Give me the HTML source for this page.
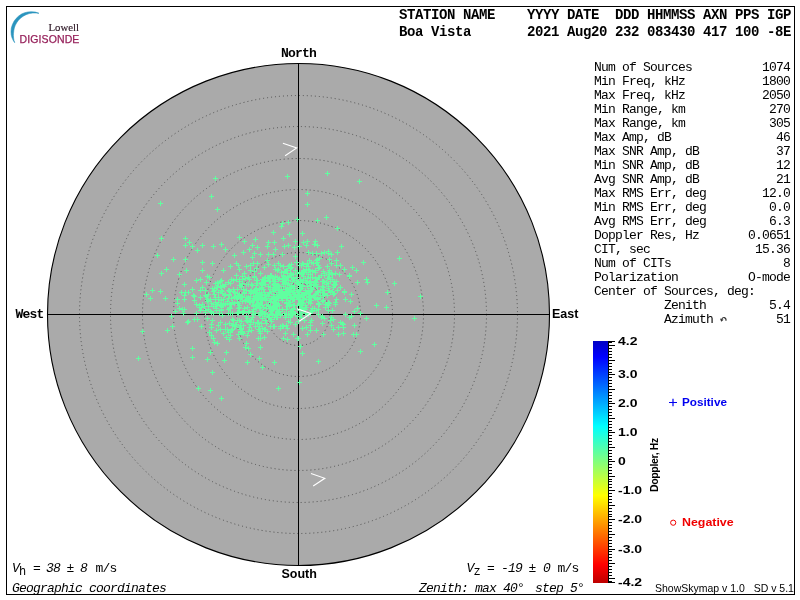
<!DOCTYPE html>
<html><head><meta charset="utf-8"><title>Skymap - Boa Vista</title>
<style>
html,body{margin:0;padding:0;background:#fff;}
body{width:800px;height:600px;position:relative;overflow:hidden;}
svg{position:absolute;left:0;top:0;}
.t{position:absolute;line-height:20px;white-space:pre;color:#000;}
.hb{font-family:"Liberation Mono", monospace;font-weight:bold;font-size:14px;letter-spacing:-0.401px;}
.m{font-family:"Liberation Mono", monospace;font-size:13px;letter-spacing:-0.801px;}
.mi{font-family:"Liberation Mono", monospace;font-style:italic;font-size:13px;letter-spacing:-0.801px;}
.mb{font-family:"Liberation Mono", monospace;font-weight:bold;font-size:13px;letter-spacing:-0.801px;}
.ms{font-family:"Liberation Mono", monospace;font-size:12px;}
.sb{font-family:"Liberation Sans", sans-serif;font-weight:bold;font-size:12.5px;}
.sb10{font-family:"Liberation Sans", sans-serif;font-weight:bold;font-size:10.5px;}
.sbn{font-family:"Liberation Sans", sans-serif;font-weight:bold;font-size:11px;}
.s10{font-family:"Liberation Sans", sans-serif;font-size:10.5px;}
.lg1{font-family:"Liberation Serif", serif;font-size:10.8px;}
.lg2{font-family:"Liberation Sans", sans-serif;font-size:10.5px;letter-spacing:0.1px;-webkit-text-stroke:0.25px #96205a;}
</style></head>
<body>
<svg width="800" height="600" viewBox="0 0 800 600">
<rect x="6.5" y="6.5" width="788" height="588" fill="none" stroke="#000" stroke-width="1"/>
<circle cx="298.5" cy="314.5" r="251" fill="#aaaaaa" stroke="#000" stroke-width="1.1"/>
<circle cx="298.5" cy="314.5" r="219" fill="none" stroke="#505050" stroke-width="1" stroke-dasharray="1 3"/>
<circle cx="298.5" cy="314.5" r="188" fill="none" stroke="#505050" stroke-width="1" stroke-dasharray="1 3"/>
<circle cx="298.5" cy="314.5" r="156" fill="none" stroke="#505050" stroke-width="1" stroke-dasharray="1 3"/>
<circle cx="298.5" cy="314.5" r="125" fill="none" stroke="#505050" stroke-width="1" stroke-dasharray="1 3"/>
<circle cx="298.5" cy="314.5" r="94" fill="none" stroke="#505050" stroke-width="1" stroke-dasharray="1 3"/>
<circle cx="298.5" cy="314.5" r="62" fill="none" stroke="#505050" stroke-width="1" stroke-dasharray="1 3"/>
<circle cx="298.5" cy="314.5" r="31" fill="none" stroke="#505050" stroke-width="1" stroke-dasharray="1 3"/>
<rect x="298" y="63" width="1" height="503" fill="#000"/>
<rect x="47" y="314" width="503" height="1" fill="#000"/>
<path d="M213 178.5h5M215.5 176v5M209 196.5h5M211.5 194v5M215 209.5h5M217.5 207v5M158 203.5h5M160.5 201v5M159 238.5h5M161.5 236v5M155 255.5h5M157.5 253v5M183 238.5h5M185.5 236v5M187 242.5h5M189.5 240v5M183 245.5h5M185.5 243v5M190 246.5h5M192.5 244v5M195 250.5h5M197.5 248v5M200 245.5h5M202.5 243v5M211 246.5h5M213.5 244v5M219 244.5h5M221.5 242v5M223 249.5h5M225.5 247v5M237 237.5h5M239.5 235v5M242 241.5h5M244.5 239v5M253 239.5h5M255.5 237v5M271 232.5h5M273.5 230v5M266 242.5h5M268.5 240v5M272 242.5h5M274.5 240v5M265 246.5h5M267.5 244v5M273 249.5h5M275.5 247v5M255 247.5h5M257.5 245v5M250 245.5h5M252.5 243v5M247 249.5h5M249.5 247v5M241 252.5h5M243.5 250v5M252 253.5h5M254.5 251v5M258 254.5h5M260.5 252v5M171 259.5h5M173.5 257v5M183 259.5h5M185.5 257v5M164 269.5h5M166.5 267v5M159 273.5h5M161.5 271v5M177 274.5h5M179.5 272v5M285 176.5h5M287.5 174v5M325 173.5h5M327.5 171v5M357 181.5h5M359.5 179v5M305 193.5h5M307.5 191v5M305 204.5h5M307.5 202v5M295 219.5h5M297.5 217v5M315 220.5h5M317.5 218v5M324 217.5h5M326.5 215v5M335 228.5h5M337.5 226v5M280 223.5h5M282.5 221v5M286 222.5h5M288.5 220v5M279 226.5h5M281.5 224v5M287 234.5h5M289.5 232v5M300 233.5h5M302.5 231v5M281 238.5h5M283.5 236v5M293 241.5h5M295.5 239v5M301 242.5h5M303.5 240v5M305 241.5h5M307.5 239v5M313 241.5h5M315.5 239v5M286 245.5h5M288.5 243v5M282 246.5h5M284.5 244v5M292 247.5h5M294.5 245v5M297 246.5h5M299.5 244v5M304 245.5h5M306.5 243v5M312 244.5h5M314.5 242v5M315 245.5h5M317.5 243v5M339 246.5h5M341.5 244v5M306 252.5h5M308.5 250v5M310 253.5h5M312.5 251v5M314 253.5h5M316.5 251v5M319 253.5h5M321.5 251v5M322 252.5h5M324.5 250v5M326 251.5h5M328.5 249v5M329 254.5h5M331.5 252v5M335 252.5h5M337.5 250v5M397 258.5h5M399.5 256v5M361 262.5h5M363.5 260v5M350 267.5h5M352.5 265v5M354 270.5h5M356.5 268v5M342 269.5h5M344.5 267v5M338 265.5h5M340.5 263v5M334 260.5h5M336.5 258v5M327 259.5h5M329.5 257v5M329 263.5h5M331.5 261v5M325 266.5h5M327.5 264v5M314 260.5h5M316.5 258v5M347 275.5h5M349.5 273v5M337 274.5h5M339.5 272v5M330 274.5h5M332.5 272v5M327 270.5h5M329.5 268v5M364 279.5h5M366.5 277v5M150 290.5h5M152.5 288v5M158 291.5h5M160.5 289v5M144 294.5h5M146.5 292v5M148 298.5h5M150.5 296v5M163 298.5h5M165.5 296v5M175 299.5h5M177.5 297v5M179 292.5h5M181.5 290v5M173 311.5h5M175.5 309v5M169 316.5h5M171.5 314v5M181 313.5h5M183.5 311v5M185 322.5h5M187.5 320v5M170 326.5h5M172.5 324v5M165 330.5h5M167.5 328v5M140 331.5h5M142.5 329v5M136 358.5h5M138.5 356v5M192 319.5h5M194.5 317v5M195 319.5h5M197.5 317v5M199 326.5h5M201.5 324v5M190 348.5h5M192.5 346v5M190 357.5h5M192.5 355v5M208 352.5h5M210.5 350v5M205 359.5h5M207.5 357v5M224 352.5h5M226.5 350v5M222 360.5h5M224.5 358v5M210 372.5h5M212.5 370v5M196 388.5h5M198.5 386v5M208 390.5h5M210.5 388v5M219 398.5h5M221.5 396v5M245 362.5h5M247.5 360v5M248 354.5h5M250.5 352v5M257 358.5h5M259.5 356v5M260 367.5h5M262.5 365v5M272 362.5h5M274.5 360v5M276 388.5h5M278.5 386v5M258 347.5h5M260.5 345v5M244 343.5h5M246.5 341v5M243 347.5h5M245.5 345v5M246 348.5h5M248.5 346v5M237 338.5h5M239.5 336v5M227 339.5h5M229.5 337v5M224 337.5h5M226.5 335v5M215 343.5h5M217.5 341v5M212 342.5h5M214.5 340v5M211 338.5h5M213.5 336v5M209 335.5h5M211.5 333v5M207 332.5h5M209.5 330v5M214 330.5h5M216.5 328v5M218 329.5h5M220.5 327v5M221 333.5h5M223.5 331v5M240 331.5h5M242.5 329v5M249 330.5h5M251.5 328v5M257 331.5h5M259.5 329v5M265 331.5h5M267.5 329v5M256 338.5h5M258.5 336v5M258 338.5h5M260.5 336v5M262 337.5h5M264.5 335v5M271 326.5h5M273.5 324v5M392 283.5h5M394.5 281v5M385 292.5h5M387.5 290v5M418 296.5h5M420.5 294v5M374 305.5h5M376.5 303v5M384 307.5h5M386.5 305v5M412 318.5h5M414.5 316v5M364 318.5h5M366.5 316v5M358 313.5h5M360.5 311v5M352 311.5h5M354.5 309v5M349 294.5h5M351.5 292v5M348 301.5h5M350.5 299v5M355 282.5h5M357.5 280v5M365 282.5h5M367.5 280v5M372 344.5h5M374.5 342v5M358 351.5h5M360.5 349v5M316 361.5h5M318.5 359v5M300 353.5h5M302.5 351v5M297 382.5h5M299.5 380v5M298 346.5h5M300.5 344v5M352 325.5h5M354.5 323v5M351 334.5h5M353.5 332v5M354 334.5h5M356.5 332v5M341 333.5h5M343.5 331v5M336 334.5h5M338.5 332v5M340 323.5h5M342.5 321v5M338 322.5h5M340.5 320v5M341 327.5h5M343.5 325v5M336 327.5h5M338.5 325v5M331 329.5h5M333.5 327v5M329 325.5h5M331.5 323v5M321 334.5h5M323.5 332v5M314 330.5h5M316.5 328v5M305 334.5h5M307.5 332v5M304 327.5h5M306.5 325v5M300 328.5h5M302.5 326v5M308 322.5h5M310.5 320v5M320 323.5h5M322.5 321v5M322 318.5h5M324.5 316v5M331 319.5h5M333.5 317v5M291 334.5h5M293.5 332v5M296 338.5h5M298.5 336v5M285 339.5h5M287.5 337v5M281 338.5h5M283.5 336v5M285 328.5h5M287.5 326v5M280 325.5h5M282.5 323v5M343 314.5h5M345.5 312v5M347 317.5h5M349.5 315v5M349 316.5h5M351.5 314v5M321 295.5h5M323.5 293v5M277 305.5h5M279.5 303v5M291 290.5h5M293.5 288v5M307 292.5h5M309.5 290v5M303 305.5h5M305.5 303v5M324 282.5h5M326.5 280v5M315 291.5h5M317.5 289v5M288 317.5h5M290.5 315v5M305 278.5h5M307.5 276v5M284 282.5h5M286.5 280v5M322 294.5h5M324.5 292v5M302 295.5h5M304.5 293v5M276 279.5h5M278.5 277v5M291 305.5h5M293.5 303v5M271 278.5h5M273.5 276v5M316 277.5h5M318.5 275v5M320 301.5h5M322.5 299v5M301 264.5h5M303.5 262v5M292 280.5h5M294.5 278v5M270 278.5h5M272.5 276v5M273 276.5h5M275.5 274v5M265 294.5h5M267.5 292v5M278 265.5h5M280.5 263v5M296 283.5h5M298.5 281v5M290 314.5h5M292.5 312v5M288 275.5h5M290.5 273v5M303 290.5h5M305.5 288v5M300 282.5h5M302.5 280v5M308 281.5h5M310.5 279v5M287 291.5h5M289.5 289v5M321 271.5h5M323.5 269v5M286 293.5h5M288.5 291v5M316 304.5h5M318.5 302v5M300 295.5h5M302.5 293v5M298 297.5h5M300.5 295v5M297 289.5h5M299.5 287v5M294 280.5h5M296.5 278v5M283 278.5h5M285.5 276v5M307 260.5h5M309.5 258v5M311 263.5h5M313.5 261v5M285 277.5h5M287.5 275v5M308 291.5h5M310.5 289v5M316 292.5h5M318.5 290v5M299 288.5h5M301.5 286v5M307 282.5h5M309.5 280v5M317 304.5h5M319.5 302v5M311 296.5h5M313.5 294v5M338 287.5h5M340.5 285v5M318 297.5h5M320.5 295v5M297 303.5h5M299.5 301v5M332 281.5h5M334.5 279v5M316 303.5h5M318.5 301v5M332 285.5h5M334.5 283v5M287 265.5h5M289.5 263v5M301 276.5h5M303.5 274v5M304 269.5h5M306.5 267v5M321 287.5h5M323.5 285v5M315 259.5h5M317.5 257v5M266 286.5h5M268.5 284v5M318 290.5h5M320.5 288v5M297 284.5h5M299.5 282v5M260 297.5h5M262.5 295v5M265 314.5h5M267.5 312v5M301 299.5h5M303.5 297v5M313 281.5h5M315.5 279v5M257 292.5h5M259.5 290v5M283 271.5h5M285.5 269v5M306 266.5h5M308.5 264v5M306 269.5h5M308.5 267v5M306 274.5h5M308.5 272v5M328 281.5h5M330.5 279v5M316 309.5h5M318.5 307v5M305 278.5h5M307.5 276v5M308 277.5h5M310.5 275v5M267 281.5h5M269.5 279v5M310 289.5h5M312.5 287v5M328 279.5h5M330.5 277v5M313 278.5h5M315.5 276v5M290 311.5h5M292.5 309v5M281 281.5h5M283.5 279v5M314 282.5h5M316.5 280v5M277 292.5h5M279.5 290v5M327 277.5h5M329.5 275v5M276 285.5h5M278.5 283v5M312 308.5h5M314.5 306v5M300 286.5h5M302.5 284v5M289 285.5h5M291.5 283v5M277 286.5h5M279.5 284v5M273 281.5h5M275.5 279v5M296 299.5h5M298.5 297v5M301 271.5h5M303.5 269v5M266 296.5h5M268.5 294v5M291 274.5h5M293.5 272v5M275 285.5h5M277.5 283v5M322 273.5h5M324.5 271v5M297 310.5h5M299.5 308v5M323 307.5h5M325.5 305v5M288 291.5h5M290.5 289v5M294 282.5h5M296.5 280v5M327 274.5h5M329.5 272v5M308 295.5h5M310.5 293v5M324 284.5h5M326.5 282v5M279 289.5h5M281.5 287v5M316 268.5h5M318.5 266v5M293 295.5h5M295.5 293v5M292 299.5h5M294.5 297v5M263 298.5h5M265.5 296v5M296 291.5h5M298.5 289v5M326 286.5h5M328.5 284v5M331 284.5h5M333.5 282v5M301 280.5h5M303.5 278v5M313 298.5h5M315.5 296v5M297 309.5h5M299.5 307v5M309 284.5h5M311.5 282v5M325 295.5h5M327.5 293v5M274 297.5h5M276.5 295v5M303 280.5h5M305.5 278v5M305 283.5h5M307.5 281v5M293 294.5h5M295.5 292v5M320 281.5h5M322.5 279v5M301 303.5h5M303.5 301v5M306 296.5h5M308.5 294v5M296 294.5h5M298.5 292v5M290 312.5h5M292.5 310v5M327 290.5h5M329.5 288v5M320 289.5h5M322.5 287v5M271 291.5h5M273.5 289v5M326 302.5h5M328.5 300v5M313 272.5h5M315.5 270v5M274 287.5h5M276.5 285v5M317 267.5h5M319.5 265v5M279 272.5h5M281.5 270v5M315 299.5h5M317.5 297v5M298 281.5h5M300.5 279v5M310 277.5h5M312.5 275v5M281 266.5h5M283.5 264v5M280 291.5h5M282.5 289v5M283 292.5h5M285.5 290v5M272 283.5h5M274.5 281v5M315 286.5h5M317.5 284v5M284 297.5h5M286.5 295v5M273 288.5h5M275.5 286v5M298 299.5h5M300.5 297v5M290 292.5h5M292.5 290v5M300 294.5h5M302.5 292v5M271 284.5h5M273.5 282v5M319 275.5h5M321.5 273v5M291 299.5h5M293.5 297v5M272 265.5h5M274.5 263v5M304 282.5h5M306.5 280v5M310 271.5h5M312.5 269v5M288 287.5h5M290.5 285v5M313 270.5h5M315.5 268v5M315 279.5h5M317.5 277v5M328 292.5h5M330.5 290v5M291 294.5h5M293.5 292v5M290 281.5h5M292.5 279v5M289 274.5h5M291.5 272v5M299 265.5h5M301.5 263v5M273 284.5h5M275.5 282v5M298 314.5h5M300.5 312v5M298 296.5h5M300.5 294v5M333 284.5h5M335.5 282v5M274 303.5h5M276.5 301v5M282 278.5h5M284.5 276v5M318 295.5h5M320.5 293v5M294 297.5h5M296.5 295v5M335 290.5h5M337.5 288v5M296 282.5h5M298.5 280v5M289 313.5h5M291.5 311v5M315 298.5h5M317.5 296v5M310 311.5h5M312.5 309v5M263 294.5h5M265.5 292v5M331 284.5h5M333.5 282v5M322 282.5h5M324.5 280v5M282 282.5h5M284.5 280v5M304 292.5h5M306.5 290v5M268 287.5h5M270.5 285v5M326 274.5h5M328.5 272v5M321 290.5h5M323.5 288v5M298 289.5h5M300.5 287v5M291 296.5h5M293.5 294v5M299 274.5h5M301.5 272v5M323 304.5h5M325.5 302v5M291 309.5h5M293.5 307v5M288 294.5h5M290.5 292v5M271 297.5h5M273.5 295v5M316 292.5h5M318.5 290v5M311 285.5h5M313.5 283v5M297 299.5h5M299.5 297v5M326 283.5h5M328.5 281v5M314 263.5h5M316.5 261v5M261 280.5h5M263.5 278v5M322 293.5h5M324.5 291v5M285 276.5h5M287.5 274v5M320 292.5h5M322.5 290v5M276 311.5h5M278.5 309v5M297 272.5h5M299.5 270v5M288 311.5h5M290.5 309v5M272 303.5h5M274.5 301v5M312 282.5h5M314.5 280v5M304 307.5h5M306.5 305v5M326 310.5h5M328.5 308v5M313 294.5h5M315.5 292v5M298 304.5h5M300.5 302v5M322 275.5h5M324.5 273v5M272 285.5h5M274.5 283v5M286 302.5h5M288.5 300v5M305 292.5h5M307.5 290v5M273 269.5h5M275.5 267v5M299 312.5h5M301.5 310v5M274 294.5h5M276.5 292v5M342 292.5h5M344.5 290v5M298 285.5h5M300.5 283v5M326 288.5h5M328.5 286v5M321 281.5h5M323.5 279v5M299 317.5h5M301.5 315v5M303 292.5h5M305.5 290v5M295 273.5h5M297.5 271v5M301 276.5h5M303.5 274v5M304 272.5h5M306.5 270v5M314 282.5h5M316.5 280v5M299 307.5h5M301.5 305v5M289 267.5h5M291.5 265v5M286 283.5h5M288.5 281v5M303 305.5h5M305.5 303v5M267 293.5h5M269.5 291v5M276 269.5h5M278.5 267v5M300 308.5h5M302.5 306v5M289 264.5h5M291.5 262v5M288 273.5h5M290.5 271v5M298 305.5h5M300.5 303v5M332 293.5h5M334.5 291v5M281 295.5h5M283.5 293v5M297 265.5h5M299.5 263v5M309 310.5h5M311.5 308v5M303 309.5h5M305.5 307v5M300 273.5h5M302.5 271v5M308 303.5h5M310.5 301v5M285 294.5h5M287.5 292v5M273 302.5h5M275.5 300v5M315 286.5h5M317.5 284v5M287 294.5h5M289.5 292v5M326 272.5h5M328.5 270v5M278 315.5h5M280.5 313v5M314 284.5h5M316.5 282v5M270 307.5h5M272.5 305v5M287 302.5h5M289.5 300v5M289 297.5h5M291.5 295v5M325 305.5h5M327.5 303v5M316 265.5h5M318.5 263v5M263 299.5h5M265.5 297v5M305 286.5h5M307.5 284v5M288 297.5h5M290.5 295v5M315 262.5h5M317.5 260v5M331 294.5h5M333.5 292v5M299 294.5h5M301.5 292v5M329 273.5h5M331.5 271v5M284 279.5h5M286.5 277v5M293 270.5h5M295.5 268v5M300 274.5h5M302.5 272v5M275 270.5h5M277.5 268v5M259 292.5h5M261.5 290v5M334 281.5h5M336.5 279v5M276 289.5h5M278.5 287v5M316 314.5h5M318.5 312v5M304 266.5h5M306.5 264v5M290 299.5h5M292.5 297v5M314 293.5h5M316.5 291v5M299 274.5h5M301.5 272v5M281 284.5h5M283.5 282v5M320 286.5h5M322.5 284v5M333 302.5h5M335.5 300v5M288 288.5h5M290.5 286v5M275 297.5h5M277.5 295v5M285 270.5h5M287.5 268v5M326 305.5h5M328.5 303v5M292 305.5h5M294.5 303v5M306 302.5h5M308.5 300v5M300 303.5h5M302.5 301v5M236 308.5h5M238.5 306v5M285 298.5h5M287.5 296v5M222 286.5h5M224.5 284v5M320 316.5h5M322.5 314v5M295 290.5h5M297.5 288v5M248 302.5h5M250.5 300v5M227 295.5h5M229.5 293v5M186 321.5h5M188.5 319v5M259 282.5h5M261.5 280v5M303 313.5h5M305.5 311v5M219 310.5h5M221.5 308v5M256 306.5h5M258.5 304v5M258 307.5h5M260.5 305v5M247 301.5h5M249.5 299v5M267 317.5h5M269.5 315v5M186 292.5h5M188.5 290v5M232 297.5h5M234.5 295v5M299 310.5h5M301.5 308v5M245 307.5h5M247.5 305v5M279 296.5h5M281.5 294v5M223 304.5h5M225.5 302v5M307 299.5h5M309.5 297v5M263 313.5h5M265.5 311v5M255 298.5h5M257.5 296v5M284 289.5h5M286.5 287v5M270 310.5h5M272.5 308v5M255 298.5h5M257.5 296v5M237 295.5h5M239.5 293v5M242 311.5h5M244.5 309v5M292 292.5h5M294.5 290v5M264 298.5h5M266.5 296v5M271 306.5h5M273.5 304v5M323 307.5h5M325.5 305v5M203 312.5h5M205.5 310v5M275 312.5h5M277.5 310v5M258 314.5h5M260.5 312v5M270 314.5h5M272.5 312v5M232 303.5h5M234.5 301v5M251 314.5h5M253.5 312v5M298 287.5h5M300.5 285v5M259 300.5h5M261.5 298v5M289 311.5h5M291.5 309v5M237 311.5h5M239.5 309v5M216 292.5h5M218.5 290v5M214 304.5h5M216.5 302v5M244 297.5h5M246.5 295v5M259 283.5h5M261.5 281v5M275 317.5h5M277.5 315v5M206 306.5h5M208.5 304v5M230 302.5h5M232.5 300v5M301 309.5h5M303.5 307v5M260 279.5h5M262.5 277v5M209 312.5h5M211.5 310v5M295 316.5h5M297.5 314v5M281 275.5h5M283.5 273v5M279 298.5h5M281.5 296v5M283 317.5h5M285.5 315v5M297 292.5h5M299.5 290v5M258 303.5h5M260.5 301v5M238 325.5h5M240.5 323v5M309 288.5h5M311.5 286v5M247 311.5h5M249.5 309v5M269 313.5h5M271.5 311v5M276 295.5h5M278.5 293v5M263 280.5h5M265.5 278v5M229 298.5h5M231.5 296v5M212 294.5h5M214.5 292v5M298 285.5h5M300.5 283v5M229 304.5h5M231.5 302v5M245 318.5h5M247.5 316v5M255 280.5h5M257.5 278v5M268 311.5h5M270.5 309v5M248 324.5h5M250.5 322v5M308 297.5h5M310.5 295v5M296 299.5h5M298.5 297v5M256 302.5h5M258.5 300v5M283 291.5h5M285.5 289v5M254 308.5h5M256.5 306v5M217 313.5h5M219.5 311v5M237 305.5h5M239.5 303v5M257 307.5h5M259.5 305v5M205 301.5h5M207.5 299v5M266 306.5h5M268.5 304v5M237 294.5h5M239.5 292v5M244 320.5h5M246.5 318v5M246 297.5h5M248.5 295v5M211 304.5h5M213.5 302v5M242 273.5h5M244.5 271v5M216 297.5h5M218.5 295v5M253 313.5h5M255.5 311v5M235 297.5h5M237.5 295v5M289 315.5h5M291.5 313v5M235 293.5h5M237.5 291v5M273 314.5h5M275.5 312v5M278 291.5h5M280.5 289v5M237 279.5h5M239.5 277v5M244 299.5h5M246.5 297v5M209 303.5h5M211.5 301v5M284 302.5h5M286.5 300v5M250 285.5h5M252.5 283v5M244 320.5h5M246.5 318v5M215 304.5h5M217.5 302v5M218 286.5h5M220.5 284v5M263 320.5h5M265.5 318v5M256 322.5h5M258.5 320v5M304 292.5h5M306.5 290v5M228 313.5h5M230.5 311v5M286 291.5h5M288.5 289v5M297 297.5h5M299.5 295v5M268 289.5h5M270.5 287v5M240 279.5h5M242.5 277v5M235 312.5h5M237.5 310v5M274 294.5h5M276.5 292v5M273 300.5h5M275.5 298v5M266 305.5h5M268.5 303v5M260 300.5h5M262.5 298v5M246 284.5h5M248.5 282v5M239 297.5h5M241.5 295v5M285 289.5h5M287.5 287v5M258 296.5h5M260.5 294v5M269 321.5h5M271.5 319v5M271 301.5h5M273.5 299v5M280 279.5h5M282.5 277v5M241 312.5h5M243.5 310v5M257 307.5h5M259.5 305v5M211 306.5h5M213.5 304v5M248 296.5h5M250.5 294v5M230 313.5h5M232.5 311v5M219 290.5h5M221.5 288v5M240 301.5h5M242.5 299v5M237 285.5h5M239.5 283v5M258 312.5h5M260.5 310v5M288 322.5h5M290.5 320v5M251 300.5h5M253.5 298v5M192 300.5h5M194.5 298v5M263 284.5h5M265.5 282v5M262 292.5h5M264.5 290v5M282 295.5h5M284.5 293v5M213 299.5h5M215.5 297v5M232 292.5h5M234.5 290v5M255 293.5h5M257.5 291v5M226 309.5h5M228.5 307v5M275 304.5h5M277.5 302v5M326 303.5h5M328.5 301v5M221 299.5h5M223.5 297v5M292 286.5h5M294.5 284v5M251 291.5h5M253.5 289v5M213 283.5h5M215.5 281v5M270 289.5h5M272.5 287v5M247 279.5h5M249.5 277v5M233 296.5h5M235.5 294v5M225 301.5h5M227.5 299v5M230 319.5h5M232.5 317v5M284 282.5h5M286.5 280v5M237 307.5h5M239.5 305v5M278 314.5h5M280.5 312v5M244 284.5h5M246.5 282v5M280 297.5h5M282.5 295v5M254 295.5h5M256.5 293v5M180 309.5h5M182.5 307v5M257 308.5h5M259.5 306v5M288 302.5h5M290.5 300v5M205 299.5h5M207.5 297v5M213 302.5h5M215.5 300v5M249 292.5h5M251.5 290v5M199 307.5h5M201.5 305v5M257 315.5h5M259.5 313v5M283 289.5h5M285.5 287v5M228 283.5h5M230.5 281v5M216 302.5h5M218.5 300v5M220 305.5h5M222.5 303v5M237 281.5h5M239.5 279v5M200 304.5h5M202.5 302v5M198 310.5h5M200.5 308v5M216 283.5h5M218.5 281v5M208 311.5h5M210.5 309v5M203 295.5h5M205.5 293v5M255 290.5h5M257.5 288v5M198 290.5h5M200.5 288v5M240 283.5h5M242.5 281v5M213 297.5h5M215.5 295v5M280 296.5h5M282.5 294v5M252 290.5h5M254.5 288v5M269 298.5h5M271.5 296v5M214 308.5h5M216.5 306v5M243 300.5h5M245.5 298v5M246 312.5h5M248.5 310v5M249 290.5h5M251.5 288v5M268 281.5h5M270.5 279v5M260 312.5h5M262.5 310v5M233 293.5h5M235.5 291v5M222 295.5h5M224.5 293v5M227 290.5h5M229.5 288v5M273 281.5h5M275.5 279v5M280 309.5h5M282.5 307v5M205 318.5h5M207.5 316v5M249 319.5h5M251.5 317v5M270 315.5h5M272.5 313v5M250 300.5h5M252.5 298v5M219 300.5h5M221.5 298v5M227 308.5h5M229.5 306v5M281 286.5h5M283.5 284v5M254 293.5h5M256.5 291v5M258 294.5h5M260.5 292v5M301 294.5h5M303.5 292v5M250 317.5h5M252.5 315v5M254 292.5h5M256.5 290v5M275 311.5h5M277.5 309v5M300 285.5h5M302.5 283v5M259 284.5h5M261.5 282v5M286 280.5h5M288.5 278v5M242 292.5h5M244.5 290v5M285 288.5h5M287.5 286v5M246 312.5h5M248.5 310v5M284 303.5h5M286.5 301v5M282 313.5h5M284.5 311v5M273 290.5h5M275.5 288v5M253 297.5h5M255.5 295v5M268 289.5h5M270.5 287v5M218 305.5h5M220.5 303v5M198 279.5h5M200.5 277v5M240 296.5h5M242.5 294v5M312 297.5h5M314.5 295v5M206 300.5h5M208.5 298v5M194 280.5h5M196.5 278v5M276 289.5h5M278.5 287v5M254 289.5h5M256.5 287v5M221 303.5h5M223.5 301v5M242 308.5h5M244.5 306v5M206 309.5h5M208.5 307v5M295 297.5h5M297.5 295v5M267 278.5h5M269.5 276v5M220 293.5h5M222.5 291v5M263 280.5h5M265.5 278v5M238 298.5h5M240.5 296v5M247 302.5h5M249.5 300v5M245 298.5h5M247.5 296v5M268 275.5h5M270.5 273v5M214 287.5h5M216.5 285v5M212 290.5h5M214.5 288v5M194 304.5h5M196.5 302v5M308 313.5h5M310.5 311v5M281 293.5h5M283.5 291v5M211 313.5h5M213.5 311v5M247 320.5h5M249.5 318v5M225 303.5h5M227.5 301v5M276 295.5h5M278.5 293v5M234 297.5h5M236.5 295v5M236 297.5h5M238.5 295v5M177 308.5h5M179.5 306v5M256 298.5h5M258.5 296v5M175 303.5h5M177.5 301v5M262 316.5h5M264.5 314v5M280 300.5h5M282.5 298v5M254 299.5h5M256.5 297v5M262 295.5h5M264.5 293v5M251 309.5h5M253.5 307v5M272 317.5h5M274.5 315v5M259 295.5h5M261.5 293v5M285 306.5h5M287.5 304v5M295 292.5h5M297.5 290v5M276 297.5h5M278.5 295v5M216 283.5h5M218.5 281v5M302 309.5h5M304.5 307v5M273 290.5h5M275.5 288v5M288 304.5h5M290.5 302v5M235 289.5h5M237.5 287v5M257 292.5h5M259.5 290v5M221 305.5h5M223.5 303v5M257 288.5h5M259.5 286v5M230 325.5h5M232.5 323v5M261 289.5h5M263.5 287v5M200 270.5h5M202.5 268v5M276 263.5h5M278.5 261v5M285 273.5h5M287.5 271v5M228 266.5h5M230.5 264v5M234 324.5h5M236.5 322v5M248 291.5h5M250.5 289v5M272 279.5h5M274.5 277v5M254 285.5h5M256.5 283v5M237 327.5h5M239.5 325v5M266 264.5h5M268.5 262v5M303 307.5h5M305.5 305v5M262 267.5h5M264.5 265v5M251 306.5h5M253.5 304v5M234 275.5h5M236.5 273v5M248 265.5h5M250.5 263v5M182 299.5h5M184.5 297v5M250 302.5h5M252.5 300v5M277 278.5h5M279.5 276v5M205 276.5h5M207.5 274v5M258 304.5h5M260.5 302v5M223 284.5h5M225.5 282v5M212 288.5h5M214.5 286v5M219 306.5h5M221.5 304v5M231 280.5h5M233.5 278v5M210 320.5h5M212.5 318v5M306 294.5h5M308.5 292v5M231 291.5h5M233.5 289v5M244 316.5h5M246.5 314v5M252 271.5h5M254.5 269v5M320 281.5h5M322.5 279v5M264 308.5h5M266.5 306v5M267 293.5h5M269.5 291v5M303 280.5h5M305.5 278v5M299 302.5h5M301.5 300v5M295 283.5h5M297.5 281v5M215 282.5h5M217.5 280v5M194 313.5h5M196.5 311v5M271 309.5h5M273.5 307v5M321 300.5h5M323.5 298v5M228 304.5h5M230.5 302v5M327 303.5h5M329.5 301v5M236 265.5h5M238.5 263v5M284 314.5h5M286.5 312v5M303 278.5h5M305.5 276v5M251 263.5h5M253.5 261v5M236 303.5h5M238.5 301v5M267 308.5h5M269.5 306v5M272 306.5h5M274.5 304v5M272 326.5h5M274.5 324v5M260 287.5h5M262.5 285v5M281 276.5h5M283.5 274v5M227 294.5h5M229.5 292v5M229 279.5h5M231.5 277v5M227 307.5h5M229.5 305v5M277 309.5h5M279.5 307v5M279 296.5h5M281.5 294v5M284 270.5h5M286.5 268v5M219 299.5h5M221.5 297v5M235 302.5h5M237.5 300v5M211 291.5h5M213.5 289v5M289 287.5h5M291.5 285v5M260 285.5h5M262.5 283v5M235 320.5h5M237.5 318v5M260 311.5h5M262.5 309v5M308 274.5h5M310.5 272v5M243 301.5h5M245.5 299v5M226 332.5h5M228.5 330v5M322 294.5h5M324.5 292v5M306 290.5h5M308.5 288v5M182 284.5h5M184.5 282v5M252 300.5h5M254.5 298v5M286 314.5h5M288.5 312v5M258 305.5h5M260.5 303v5M260 294.5h5M262.5 292v5M260 313.5h5M262.5 311v5M234 263.5h5M236.5 261v5M298 302.5h5M300.5 300v5M202 306.5h5M204.5 304v5M209 324.5h5M211.5 322v5M294 262.5h5M296.5 260v5M182 295.5h5M184.5 293v5M241 325.5h5M243.5 323v5M264 304.5h5M266.5 302v5M219 280.5h5M221.5 278v5M244 290.5h5M246.5 288v5M243 278.5h5M245.5 276v5M232 255.5h5M234.5 253v5M248 270.5h5M250.5 268v5M226 290.5h5M228.5 288v5M215 287.5h5M217.5 285v5M260 328.5h5M262.5 326v5M273 300.5h5M275.5 298v5M276 300.5h5M278.5 298v5M266 317.5h5M268.5 315v5M241 289.5h5M243.5 287v5M287 306.5h5M289.5 304v5M293 313.5h5M295.5 311v5M203 290.5h5M205.5 288v5M275 306.5h5M277.5 304v5M286 266.5h5M288.5 264v5M258 299.5h5M260.5 297v5M298 279.5h5M300.5 277v5M219 287.5h5M221.5 285v5M294 280.5h5M296.5 278v5M220 315.5h5M222.5 313v5M298 287.5h5M300.5 285v5M293 256.5h5M295.5 254v5M235 289.5h5M237.5 287v5M182 309.5h5M184.5 307v5M214 310.5h5M216.5 308v5M190 289.5h5M192.5 287v5M255 294.5h5M257.5 292v5M200 262.5h5M202.5 260v5M275 277.5h5M277.5 275v5M240 332.5h5M242.5 330v5M239 321.5h5M241.5 319v5M248 322.5h5M250.5 320v5M208 299.5h5M210.5 297v5M210 263.5h5M212.5 261v5M226 282.5h5M228.5 280v5M192 296.5h5M194.5 294v5M277 311.5h5M279.5 309v5M226 298.5h5M228.5 296v5M250 311.5h5M252.5 309v5M238 285.5h5M240.5 283v5M221 270.5h5M223.5 268v5M220 285.5h5M222.5 283v5M206 294.5h5M208.5 292v5M210 288.5h5M212.5 286v5M207 277.5h5M209.5 275v5M248 293.5h5M250.5 291v5M183 292.5h5M185.5 290v5M254 268.5h5M256.5 266v5M272 296.5h5M274.5 294v5M203 310.5h5M205.5 308v5M244 266.5h5M246.5 264v5M246 277.5h5M248.5 275v5M228 308.5h5M230.5 306v5M269 275.5h5M271.5 273v5M200 287.5h5M202.5 285v5M191 295.5h5M193.5 293v5M237 269.5h5M239.5 267v5M330 291.5h5M332.5 289v5M184 270.5h5M186.5 268v5M197 305.5h5M199.5 303v5M288 268.5h5M290.5 266v5M204 296.5h5M206.5 294v5M231 324.5h5M233.5 322v5M238 331.5h5M240.5 329v5M269 319.5h5M271.5 317v5M239 332.5h5M241.5 330v5M233 324.5h5M235.5 322v5M228 335.5h5M230.5 333v5M274 317.5h5M276.5 315v5M286 321.5h5M288.5 319v5M253 326.5h5M255.5 324v5M251 322.5h5M253.5 320v5M281 326.5h5M283.5 324v5M230 329.5h5M232.5 327v5M227 323.5h5M229.5 321v5M216 325.5h5M218.5 323v5M239 328.5h5M241.5 326v5M264 323.5h5M266.5 321v5M209 327.5h5M211.5 325v5M239 329.5h5M241.5 327v5M255 322.5h5M257.5 320v5M255 323.5h5M257.5 321v5M283 333.5h5M285.5 331v5M284 325.5h5M286.5 323v5M223 329.5h5M225.5 327v5M232 326.5h5M234.5 324v5M258 331.5h5M260.5 329v5M278 326.5h5M280.5 324v5M278 328.5h5M280.5 326v5M237 320.5h5M239.5 318v5M247 327.5h5M249.5 325v5M258 333.5h5M260.5 331v5M223 324.5h5M225.5 322v5M268 326.5h5M270.5 324v5M225 329.5h5M227.5 327v5M262 329.5h5M264.5 327v5M256 329.5h5M258.5 327v5M260 318.5h5M262.5 316v5M257 326.5h5M259.5 324v5M228 332.5h5M230.5 330v5M246 331.5h5M248.5 329v5M238 329.5h5M240.5 327v5M229 330.5h5M231.5 328v5M355 308.5h5M357.5 306v5M218 304.5h5M220.5 302v5M272 299.5h5M274.5 297v5M347 276.5h5M349.5 274v5M236 334.5h5M238.5 332v5M286 277.5h5M288.5 275v5M274 314.5h5M276.5 312v5M266 278.5h5M268.5 276v5M241 333.5h5M243.5 331v5M198 297.5h5M200.5 295v5M273 306.5h5M275.5 304v5M255 303.5h5M257.5 301v5M306 290.5h5M308.5 288v5M253 289.5h5M255.5 287v5M231 289.5h5M233.5 287v5M259 297.5h5M261.5 295v5M328 320.5h5M330.5 318v5M253 306.5h5M255.5 304v5M284 309.5h5M286.5 307v5M273 299.5h5M275.5 297v5M252 277.5h5M254.5 275v5M309 320.5h5M311.5 318v5M300 302.5h5M302.5 300v5M283 284.5h5M285.5 282v5M197 307.5h5M199.5 305v5M280 281.5h5M282.5 279v5M231 320.5h5M233.5 318v5M242 293.5h5M244.5 291v5M251 296.5h5M253.5 294v5M263 277.5h5M265.5 275v5M317 277.5h5M319.5 275v5M251 305.5h5M253.5 303v5M249 284.5h5M251.5 282v5M287 285.5h5M289.5 283v5M220 291.5h5M222.5 289v5M263 329.5h5M265.5 327v5M226 313.5h5M228.5 311v5M239 286.5h5M241.5 284v5M258 299.5h5M260.5 297v5M308 330.5h5M310.5 328v5M245 321.5h5M247.5 319v5M314 310.5h5M316.5 308v5M240 312.5h5M242.5 310v5M267 300.5h5M269.5 298v5M261 307.5h5M263.5 305v5M319 317.5h5M321.5 315v5M263 314.5h5M265.5 312v5M333 273.5h5M335.5 271v5M334 265.5h5M336.5 263v5M295 305.5h5M297.5 303v5M334 299.5h5M336.5 297v5M252 276.5h5M254.5 274v5M219 309.5h5M221.5 307v5M262 278.5h5M264.5 276v5M294 277.5h5M296.5 275v5M254 283.5h5M256.5 281v5M341 324.5h5M343.5 322v5M265 260.5h5M267.5 258v5M284 295.5h5M286.5 293v5M287 305.5h5M289.5 303v5M259 312.5h5M261.5 310v5M307 297.5h5M309.5 295v5M255 283.5h5M257.5 281v5M301 270.5h5M303.5 268v5M265 277.5h5M267.5 275v5M213 306.5h5M215.5 304v5M271 294.5h5M273.5 292v5M309 262.5h5M311.5 260v5M269 299.5h5M271.5 297v5M307 270.5h5M309.5 268v5M302 298.5h5M304.5 296v5M329 317.5h5M331.5 315v5M295 338.5h5M297.5 336v5M272 284.5h5M274.5 282v5M258 273.5h5M260.5 271v5M271 254.5h5M273.5 252v5M268 302.5h5M270.5 300v5M314 286.5h5M316.5 284v5M330 279.5h5M332.5 277v5M266 254.5h5M268.5 252v5M240 276.5h5M242.5 274v5M333 304.5h5M335.5 302v5M227 304.5h5M229.5 302v5M292 288.5h5M294.5 286v5M273 287.5h5M275.5 285v5M250 257.5h5M252.5 255v5M268 319.5h5M270.5 317v5M331 287.5h5M333.5 285v5M241 289.5h5M243.5 287v5M309 300.5h5M311.5 298v5M248 300.5h5M250.5 298v5M264 304.5h5M266.5 302v5M255 263.5h5M257.5 261v5M274 309.5h5M276.5 307v5M227 291.5h5M229.5 289v5M308 285.5h5M310.5 283v5M245 335.5h5M247.5 333v5M306 314.5h5M308.5 312v5M233 326.5h5M235.5 324v5M204 282.5h5M206.5 280v5M302 320.5h5M304.5 318v5M234 279.5h5M236.5 277v5M280 254.5h5M282.5 252v5M298 304.5h5M300.5 302v5M254 304.5h5M256.5 302v5M304 299.5h5M306.5 297v5M293 324.5h5M295.5 322v5M253 296.5h5M255.5 294v5M251 314.5h5M253.5 312v5M255 303.5h5M257.5 301v5M278 294.5h5M280.5 292v5M342 291.5h5M344.5 289v5M330 310.5h5M332.5 308v5M326 290.5h5M328.5 288v5M310 308.5h5M312.5 306v5M247 298.5h5M249.5 296v5M267 292.5h5M269.5 290v5M325 278.5h5M327.5 276v5M254 280.5h5M256.5 278v5M273 304.5h5M275.5 302v5M343 299.5h5M345.5 297v5M291 278.5h5M293.5 276v5M296 321.5h5M298.5 319v5M326 253.5h5M328.5 251v5M308 325.5h5M310.5 323v5M305 263.5h5M307.5 261v5M260 305.5h5M262.5 303v5M289 277.5h5M291.5 275v5M236 313.5h5M238.5 311v5M218 322.5h5M220.5 320v5M273 299.5h5M275.5 297v5M218 281.5h5M220.5 279v5M300 263.5h5M302.5 261v5M223 294.5h5M225.5 292v5M291 308.5h5M293.5 306v5M257 289.5h5M259.5 287v5M262 281.5h5M264.5 279v5M282 296.5h5M284.5 294v5M247 298.5h5M249.5 296v5M271 291.5h5M273.5 289v5M317 258.5h5M319.5 256v5M282 271.5h5M284.5 269v5M259 323.5h5M261.5 321v5M228 291.5h5M230.5 289v5" stroke="#60ffa0" stroke-width="1" fill="none" shape-rendering="crispEdges"/>
<path d="M282.9 143.2L296.7 148L285.1 155.7" fill="none" stroke="#fff" stroke-width="1.1"/>
<path d="M297 308.7L310.8 313.5L299.2 321.2" fill="none" stroke="#fff" stroke-width="1.1"/>
<path d="M311 473.5L324.8 478.3L313.2 486" fill="none" stroke="#fff" stroke-width="1.1"/>
<defs><linearGradient id="jet" x1="0" y1="0" x2="0" y2="1">
<stop offset="0" stop-color="rgb(0,0,196)"/><stop offset="0.066" stop-color="rgb(0,0,255)"/>
<stop offset="0.352" stop-color="rgb(0,255,255)"/><stop offset="0.639" stop-color="rgb(255,255,0)"/>
<stop offset="0.925" stop-color="rgb(255,0,0)"/><stop offset="1" stop-color="rgb(189,0,0)"/></linearGradient></defs>
<rect x="593" y="341" width="15" height="242" fill="url(#jet)"/>
<rect x="608" y="341" width="1" height="242" fill="#000"/>
<path d="M609 581.5h3M609 578.5h6M609 575.5h3M609 572.5h3M609 569.5h3M609 566.5h3M609 563.5h6M609 560.5h3M609 557.5h3M609 554.5h3M609 551.5h3M609 549.5h6M609 546.5h3M609 543.5h3M609 540.5h3M609 537.5h3M609 534.5h6M609 531.5h3M609 528.5h3M609 525.5h3M609 522.5h3M609 519.5h6M609 516.5h3M609 514.5h3M609 511.5h3M609 508.5h3M609 505.5h6M609 502.5h3M609 499.5h3M609 496.5h3M609 493.5h3M609 490.5h6M609 487.5h3M609 484.5h3M609 481.5h3M609 479.5h3M609 476.5h6M609 473.5h3M609 470.5h3M609 467.5h3M609 464.5h3M609 461.5h6M609 459.5h3M609 456.5h3M609 453.5h3M609 450.5h3M609 447.5h6M609 444.5h3M609 441.5h3M609 438.5h3M609 435.5h3M609 432.5h6M609 430.5h3M609 427.5h3M609 424.5h3M609 421.5h3M609 418.5h6M609 415.5h3M609 412.5h3M609 409.5h3M609 406.5h3M609 403.5h6M609 401.5h3M609 398.5h3M609 395.5h3M609 392.5h3M609 389.5h6M609 386.5h3M609 383.5h3M609 380.5h3M609 377.5h3M609 374.5h6M609 372.5h3M609 369.5h3M609 366.5h3M609 363.5h3M609 360.5h6M609 357.5h3M609 354.5h3M609 351.5h3M609 348.5h3M609 345.5h6M609 342.5h3M609 341.5h6M609 582.5h6" stroke="#000" stroke-width="1" fill="none" shape-rendering="crispEdges"/>
<path d="M669 402.5h8M673 398.7v7.6" stroke="#0000f0" stroke-width="1.2" fill="none"/>
<circle cx="673.2" cy="522.7" r="2.6" stroke="#f00000" stroke-width="1" fill="none"/>
<path d="M726 320.8C726.4 317 722.4 316.4 721.8 319.6" stroke="#333" stroke-width="1.15" fill="none"/><path d="M720 318.4L723.6 319.7L721.2 321.8Z" fill="#333"/>
<path d="M39 13.3L35.5 12.1L31.3 11.7L27.8 12L24.7 12.7L21.5 14.1L18.7 16L16.1 18.5L14 21.3L12.4 24.6L11.3 28L11 31.4L11.2 34.7L11.9 37.5L13 40L14.7 42.7L14.7 42.7L13.9 40.3L13.6 38L13.4 35.6L13.5 33.3L13.8 30.6L14.3 28L15.3 25.2L16.7 22.7L18.5 20.2L20.7 18L23.2 16.2L26 14.7L29.2 13.6L32.7 13L36 13L39 13.3Z" fill="#2a94be" stroke="#2a94be" stroke-width="0.55" stroke-linejoin="round"/>
</svg>
<div id="labels" style="position:absolute;left:0;top:0;width:800px;height:600px;will-change:transform;">
<div class="t hb" style="left:399px;top:5px;">STATION NAME    YYYY DATE  DDD HHMMSS AXN PPS IGP</div>
<div class="t hb" style="left:399px;top:22px;">Boa Vista       2021 Aug20 232 083430 417 100 -8E</div>
<div class="t m" style="left:594px;top:58px;">Num of Sources          1074</div>
<div class="t m" style="left:594px;top:72px;">Min Freq, kHz           1800</div>
<div class="t m" style="left:594px;top:86px;">Max Freq, kHz           2050</div>
<div class="t m" style="left:594px;top:100px;">Min Range, km            270</div>
<div class="t m" style="left:594px;top:114px;">Max Range, km            305</div>
<div class="t m" style="left:594px;top:128px;">Max Amp, dB               46</div>
<div class="t m" style="left:594px;top:142px;">Max SNR Amp, dB           37</div>
<div class="t m" style="left:594px;top:156px;">Min SNR Amp, dB           12</div>
<div class="t m" style="left:594px;top:170px;">Avg SNR Amp, dB           21</div>
<div class="t m" style="left:594px;top:184px;">Max RMS Err, deg        12.0</div>
<div class="t m" style="left:594px;top:198px;">Min RMS Err, deg         0.0</div>
<div class="t m" style="left:594px;top:212px;">Avg RMS Err, deg         6.3</div>
<div class="t m" style="left:594px;top:226px;">Doppler Res, Hz       0.0651</div>
<div class="t m" style="left:594px;top:240px;">CIT, sec               15.36</div>
<div class="t m" style="left:594px;top:254px;">Num of CITs                8</div>
<div class="t m" style="left:594px;top:268px;">Polarization          O-mode</div>
<div class="t m" style="left:594px;top:282px;">Center of Sources, deg:     </div>
<div class="t m" style="left:594px;top:296px;">          Zenith         5.4</div>
<div class="t m" style="left:594px;top:310px;">          Azimuth         51</div>
<div class="t mb" style="left:281px;top:44px;">North</div>
<div class="t mb" style="left:15.4px;top:305px;">West</div>
<div class="t sb" style="left:281.5px;top:564px;">South</div>
<div class="t sb" style="left:552px;top:304px;">East</div>
<div class="t mi" style="left:12px;top:559px;">V</div>
<div class="t ms" style="left:19px;top:562px;">h</div>
<div class="t m" style="left:33px;top:559px;">=</div>
<div class="t mi" style="left:46px;top:559px;">38</div>
<div class="t m" style="left:66.5px;top:559px;">&plusmn;</div>
<div class="t mi" style="left:80px;top:559px;">8</div>
<div class="t m" style="left:95.5px;top:559px;">m/s</div>
<div class="t mi" style="left:12px;top:579px;">Geographic coordinates</div>
<div class="t mi" style="left:466.5px;top:559px;">V</div>
<div class="t ms" style="left:473.5px;top:562px;">z</div>
<div class="t m" style="left:487px;top:559px;">=</div>
<div class="t mi" style="left:501px;top:559px;">-19</div>
<div class="t m" style="left:528.5px;top:559px;">&plusmn;</div>
<div class="t mi" style="left:543px;top:559px;">0</div>
<div class="t m" style="left:557.5px;top:559px;">m/s</div>
<div class="t mi" style="left:419px;top:579px;">Zenith: max 40&deg;</div>
<div class="t mi" style="left:535px;top:579px;">step 5&deg;</div>
<div class="t s10" style="left:655px;top:578px;">ShowSkymap v 1.0   SD v 5.1</div>
<div class="t sbn" style="left:618px;top:331px;transform-origin:0 0;transform:scaleX(1.27);">4.2</div>
<div class="t sbn" style="left:618px;top:364px;transform-origin:0 0;transform:scaleX(1.27);">3.0</div>
<div class="t sbn" style="left:618px;top:393px;transform-origin:0 0;transform:scaleX(1.27);">2.0</div>
<div class="t sbn" style="left:618px;top:422px;transform-origin:0 0;transform:scaleX(1.27);">1.0</div>
<div class="t sbn" style="left:618px;top:451px;transform-origin:0 0;transform:scaleX(1.27);">0</div>
<div class="t sbn" style="left:618px;top:480px;transform-origin:0 0;transform:scaleX(1.27);">-1.0</div>
<div class="t sbn" style="left:618px;top:509px;transform-origin:0 0;transform:scaleX(1.27);">-2.0</div>
<div class="t sbn" style="left:618px;top:539px;transform-origin:0 0;transform:scaleX(1.27);">-3.0</div>
<div class="t sbn" style="left:618px;top:572px;transform-origin:0 0;transform:scaleX(1.27);">-4.2</div>
<div class="t sb10" style="left:682.3px;top:392px;color:#0000f0;transform-origin:0 0;transform:scaleX(1.115);">Positive</div>
<div class="t sb10" style="left:682.2px;top:512px;color:#f00000;transform-origin:0 0;transform:scaleX(1.18);">Negative</div>
<div class="t sb10" style="left:658px;top:492px;transform-origin:0 0;transform:rotate(-90deg) translateY(-14px);letter-spacing:-0.35px;">Doppler, Hz</div>
<div class="t lg1" style="left:48.5px;top:16.5px;color:#2c1624;-webkit-text-stroke:0.15px #2c1624;">Lowell</div>
<div class="t lg2" style="left:19.6px;top:29px;color:#96205a;">DIGISONDE</div>
</div>
</body></html>
